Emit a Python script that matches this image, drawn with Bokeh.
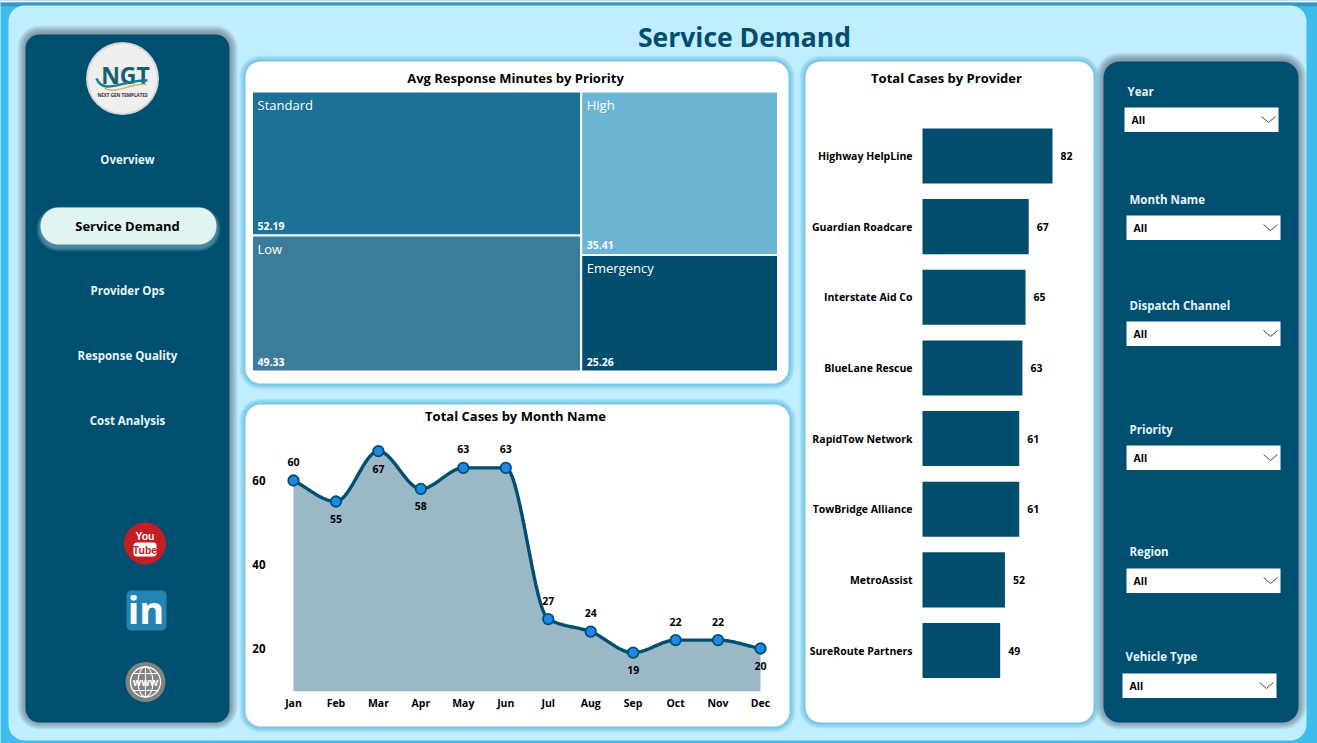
import numpy as np
from bokeh.embed import file_html
from bokeh.resources import INLINE
from bokeh.plotting import figure
from bokeh.core.properties import value
from bokeh.models import Range1d, LinearAxis, FixedTicker, ColumnDataSource

# ---------- data ----------
priorities = ["Standard", "Low", "High", "Emergency"]
response_minutes = [52.19, 49.33, 35.41, 25.26]
priority_colors = ["#1b7196", "#3b7c9b", "#6bb4d4", "#004d6e"]

months = ["Jan", "Feb", "Mar", "Apr", "May", "Jun", "Jul", "Aug", "Sep", "Oct", "Nov", "Dec"]
month_cases = [60, 55, 67, 58, 63, 63, 27, 24, 19, 22, 22, 20]
label_above = [True, False, False, False, True, True, True, True, False, True, True, False]
case_ticks = [20, 40, 60]

providers = ["Highway HelpLine", "Guardian Roadcare", "Interstate Aid Co", "BlueLane Rescue",
             "RapidTow Network", "TowBridge Alliance", "MetroAssist", "SureRoute Partners"]
provider_cases = [82, 67, 65, 63, 61, 61, 52, 49]

nav_items = ["Overview", "Provider Ops", "Response Quality", "Cost Analysis"]
slicers = ["Year", "Month Name", "Dispatch Channel", "Priority", "Region", "Vehicle Type"]

# ---------- layout (page pixels) ----------
PX0, PX1, PY0, PY1 = 0, 1317, 0, 743
NAVY = "#004f70"
FONT = "Open Sans"
FV = value(FONT)
nav_y = [159, 290, 355, 420]
slicer_boxes = [(1124, 107), (1126, 215), (1126, 321), (1126, 445), (1126, 568), (1122, 673)]
slicer_label_y = [91, 199, 305, 429, 551, 656]

p = figure(width=PX1 - PX0, height=PY1 - PY0, output_backend="svg", toolbar_location=None, tools="",
           x_range=Range1d(PX0, PX1), y_range=Range1d(PY1, PY0),
           x_axis_location=None, y_axis_location=None, min_border=0,
           background_fill_color="#3dbcee", border_fill_color="#3dbcee", outline_line_color=None)
p.grid.visible = False


def x_scale(px_a, val_a, px_b, val_b):
    k = (val_b - val_a) / (px_b - px_a)
    return Range1d(val_a + (PX0 - px_a) * k, val_a + (PX1 - px_a) * k)


def y_scale(px_a, val_a, px_b, val_b):
    k = (val_b - val_a) / (px_b - px_a)
    return Range1d(val_a + (PY1 - px_a) * k, val_a + (PY0 - px_a) * k)


def rounded(x0, y0, x1, y1, r):
    a = np.linspace(0, np.pi / 2, 9)
    xs = np.concatenate([x1 - r + r * np.sin(a), x1 - r + r * np.cos(a), x0 + r - r * np.sin(a), x0 + r - r * np.cos(a)])
    ys = np.concatenate([y0 + r - r * np.cos(a), y1 - r + r * np.sin(a), y1 - r + r * np.cos(a), y0 + r - r * np.sin(a)])
    return xs, ys


def panel(x0, y0, x1, y1, r, color, shadow=None, spread=10, alpha=0.07, dy=0):
    if shadow:
        for s in range(spread, 0, -1):
            xs, ys = rounded(x0 - s, y0 - s + dy, x1 + s, y1 + s + dy, r + s)
            p.patch(xs, ys, fill_color=shadow, fill_alpha=alpha, line_color=None)
    xs, ys = rounded(x0, y0, x1, y1, r)
    p.patch(xs, ys, fill_color=color, line_color=None)


def label(x, y, s, size, color="#000000", bold=True, align="center", font=FONT):
    p.text([x], [y], text=[s], text_font=value(font), text_font_size=f"{size}px",
           text_font_style="bold" if bold else "normal", text_color=color,
           text_align=align, text_baseline="middle")


# ---------- page ----------
p.quad(left=[0], right=[1317], top=[0], bottom=[2], fill_color="#ffffff", line_color=None)
p.quad(left=[0], right=[1317], top=[2], bottom=[6], fill_color="#3b97c2", line_color=None)
panel(8, 5, 1306, 740, 16, "#c1eefe")
label(744, 36.5, "Service Demand", 26.5, "#004d6e")

panel(25, 34, 229, 722, 14, NAVY, shadow="#333f47", spread=8, alpha=0.07, dy=-1)
panel(1103, 61, 1298, 722, 16, NAVY, shadow="#333f47", spread=8, alpha=0.07, dy=-1)
panel(245, 61, 788, 383, 15, "#ffffff", shadow="#3aa6d2", spread=6, alpha=0.12)
panel(245, 404, 789, 726, 15, "#ffffff", shadow="#3aa6d2", spread=6, alpha=0.12)
panel(805, 61, 1093, 722, 15, "#ffffff", shadow="#3aa6d2", spread=6, alpha=0.12)

# ---------- navigation ----------
for s, y in zip(nav_items, nav_y):
    label(127, y, s, 11.5, "#e6f6f6")
panel(40, 207, 216, 244, 18, "#e0f4f2", shadow="#b8dfe6", spread=4, alpha=0.12, dy=3)
label(127, 225.5, "Service Demand", 13, "#000000")

# logo
p.circle([122], [78], radius=36.5, fill_color="#d5d8d8", line_color=None)
p.circle([122], [78], radius=34.5, fill_color="#efefef", line_color=None)
label(125, 74.5, "NGT", 23, "#14606f")
p.bezier(x0=[96], y0=[78], x1=[147], y1=[80], cx0=[103], cy0=[96], cx1=[125], cy1=[78],
         line_color="#0f7f95", line_width=2.5)
p.bezier(x0=[104], y0=[88], x1=[146], y1=[84], cx0=[118], cy0=[94], cx1=[130], cy1=[82],
         line_color="#e0ad5a", line_width=1.5)
label(122, 94, "NEXT GEN TEMPLATES", 4.6, "#333333")

# YouTube
p.circle([144.5], [543], radius=21, fill_color="#c41d24", line_color=None)
label(144.5, 535, "You", 10.5, "#ffffff", font="Liberation Sans")
panel(133, 542, 156, 556, 3, "#ffffff")
label(144.5, 549.5, "Tube", 10.5, "#c41d24", font="Liberation Sans")

# LinkedIn
panel(126, 590, 166, 630, 5, "#2483b1")
label(145.5, 608, "in", 38, "#ffffff")

# web
p.circle([145], [681.5], radius=20, fill_color="#828282", line_color=None)
p.circle([145], [681.5], radius=15, fill_color=None, line_color="#ffffff", line_width=1.3)
p.ellipse([145], [681.5], width=15, height=30, fill_color=None, line_color="#ffffff", line_width=1.1)
p.segment([145, 133, 133], [667, 673, 690], [145, 157, 157], [696, 673, 690], line_color="#ffffff", line_width=1.1)
label(145, 681.5, "www", 10, "#ffffff")

# ---------- slicers ----------
for s, (bx, by), ly in zip(slicers, slicer_boxes, slicer_label_y):
    label(bx + 3, ly, s, 11.5, "#e6f6f6", align="left")
    p.quad(left=[bx], right=[bx + 154], top=[by], bottom=[by + 24.5], fill_color="#ffffff", line_color=None)
    label(bx + 7, by + 12.5, "All", 10.5, "#000000", align="left")
    p.line([bx + 137, bx + 144, bx + 151], [by + 9, by + 15, by + 9], line_color="#444444", line_width=1)

# ---------- treemap ----------
label(515, 77.5, "Avg Response Minutes by Priority", 13)
TX0, TX1, TY0, TY1 = 251.5, 777.5, 91, 371
total = sum(response_minutes)
p.extra_x_ranges["tx"] = x_scale(TX0, 0, TX1, total)
p.extra_y_ranges["ty"] = y_scale(TY0, 0, TY1, 1)
left_sum = response_minutes[0] + response_minutes[1]
right_sum = response_minutes[2] + response_minutes[3]
tree = dict(
    left=[0, 0, left_sum, left_sum],
    right=[left_sum, left_sum, total, total],
    top=[0, response_minutes[0] / left_sum, 0, response_minutes[2] / right_sum],
    bottom=[response_minutes[0] / left_sum, 1, response_minutes[2] / right_sum, 1],
    color=priority_colors,
    name=priorities,
    value=[f"{v:.2f}" for v in response_minutes],
)
tree_src = ColumnDataSource(tree)
p.quad(left="left", right="right", top="top", bottom="bottom", fill_color="color", line_color="#ffffff",
       line_width=2, source=tree_src, x_range_name="tx", y_range_name="ty")
p.text(x="left", y="top", text="name", x_offset=5.5, y_offset=13.5, text_color="#ffffff", text_font=FV,
       text_font_size="13px", text_baseline="middle", source=tree_src, x_range_name="tx", y_range_name="ty")
p.text(x="left", y="bottom", text="value", x_offset=5.5, y_offset=-9.5, text_color="#ffffff", text_font=FV,
       text_font_size="10.5px", text_font_style="bold", text_baseline="middle", source=tree_src,
       x_range_name="tx", y_range_name="ty")

# ---------- monthly area chart ----------
label(515, 415.5, "Total Cases by Month Name", 13)
p.extra_x_ranges["mx"] = x_scale(293, 0, 760, 11)
p.extra_y_ranges["my"] = y_scale(648, 20, 480, 60)
BASE = 9.8
idx = np.arange(len(months), dtype=float)
vals = np.array(month_cases, dtype=float)


def monotone_curve(x, y, n=24):
    h = np.diff(x)
    d = np.diff(y) / h
    m = np.zeros_like(y)
    for i in range(1, len(y) - 1):
        if d[i - 1] * d[i] > 0:
            m[i] = 2 * d[i - 1] * d[i] / (d[i - 1] + d[i])
    m[0], m[-1] = d[0], d[-1]
    out_x, out_y = [], []
    for i in range(len(h)):
        t = np.linspace(0, 1, n, endpoint=False)
        out_x.append(x[i] + t * h[i])
        out_y.append((2 * t**3 - 3 * t**2 + 1) * y[i] + (t**3 - 2 * t**2 + t) * h[i] * m[i]
                     + (-2 * t**3 + 3 * t**2) * y[i + 1] + (t**3 - t**2) * h[i] * m[i + 1])
    return np.append(np.concatenate(out_x), x[-1]), np.append(np.concatenate(out_y), y[-1])


cx, cy = monotone_curve(idx, vals)
p.varea(x=cx, y1=cy, y2=BASE, fill_color="#9ab8c6", x_range_name="mx", y_range_name="my")
p.line(cx, cy, line_color="#004f70", line_width=3.4, x_range_name="mx", y_range_name="my")
p.scatter(idx, vals, size=10.5, fill_color="#1e88e8", line_color="#004f70", line_width=1.8,
          x_range_name="mx", y_range_name="my")
month_src = ColumnDataSource(dict(x=idx, y=vals, t=[str(v) for v in month_cases],
                                  off=[-18.5 if a else 17.5 for a in label_above]))
p.text(x="x", y="y", text="t", y_offset="off", text_font=FV, text_font_size="10.5px", text_font_style="bold",
       text_color="#000000", text_align="center", text_baseline="middle", source=month_src,
       x_range_name="mx", y_range_name="my")

axis_style = dict(axis_line_color=None, major_tick_line_color=None, minor_tick_line_color=None,
                  major_label_text_font=FONT, major_label_text_font_size="10.5px",
                  major_label_text_font_style="bold", major_label_text_color="#000000")
xax = LinearAxis(x_range_name="mx", y_range_name="my", fixed_location=BASE,
                 ticker=FixedTicker(ticks=list(range(len(months)))),
                 major_label_overrides={i: m for i, m in enumerate(months)},
                 major_label_standoff=-1, **axis_style)
p.add_layout(xax, "below")
yax = LinearAxis(x_range_name="mx", y_range_name="my", fixed_location=-0.4,
                 ticker=FixedTicker(ticks=case_ticks), major_label_standoff=5, **axis_style)
yax.major_label_text_font_size = "11.5px"
p.add_layout(yax, "left")

# ---------- provider bars ----------
label(946, 77.5, "Total Cases by Provider", 13)
p.extra_x_ranges["bx"] = x_scale(922, 0, 1052, 82)
p.extra_y_ranges["by"] = y_scale(155.5, 0, 650, 7)
rows = list(range(len(providers)))
p.hbar(y=rows, left=0, right=provider_cases, height=0.78, fill_color="#004d6e", line_color=None,
       x_range_name="bx", y_range_name="by")
p.text(x=provider_cases, y=rows, text=[str(v) for v in provider_cases], x_offset=8, text_font=FV,
       text_font_size="10.5px", text_font_style="bold", text_color="#000000", text_baseline="middle",
       x_range_name="bx", y_range_name="by")
bax = LinearAxis(x_range_name="bx", y_range_name="by", fixed_location=0,
                 ticker=FixedTicker(ticks=rows),
                 major_label_overrides={i: s for i, s in enumerate(providers)},
                 major_label_standoff=4, **axis_style)
p.add_layout(bax, "left")

open("out.html", "w").write(file_html(p, INLINE))
